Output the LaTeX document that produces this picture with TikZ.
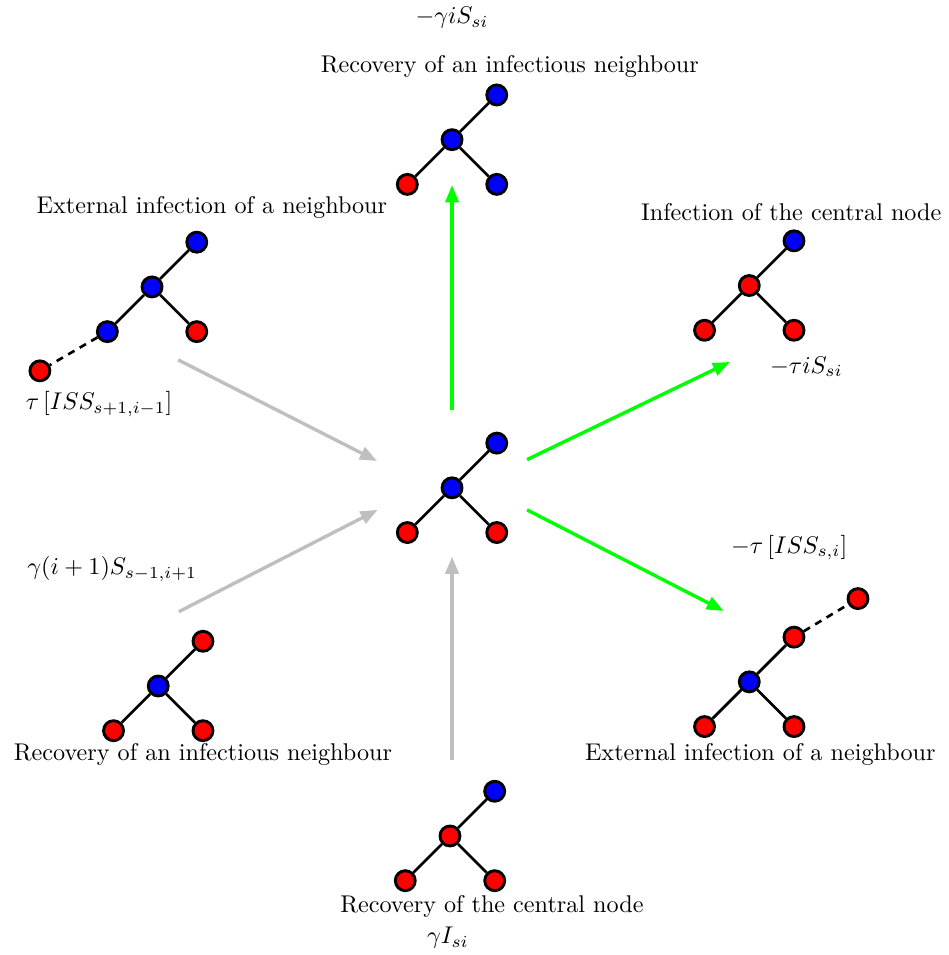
\documentclass[tikz,border=0pt]{standalone}
\usetikzlibrary{arrows.meta}
\begin{document}
\begin{tikzpicture}[
  inf/.style={shape=circle, draw, line width=1.2pt, fill=red, minimum size=0.29cm, inner sep=0pt},
  sus/.style={shape=circle, draw, line width=1.2pt, fill=blue, minimum size=0.29cm, inner sep=0pt},
  link/.style={line width=1.1pt},
  extlink/.style={line width=1.1pt, dashed, dash pattern=on 3pt off 2.5pt},
  gain/.style={-{Triangle[length=2.5mm, width=1.9mm]}, line width=1.4pt, color=lightgray},
  loss/.style={-{Triangle[length=2.5mm, width=1.9mm]}, line width=1.4pt, color=green}]
\useasboundingbox (-6.57,-6.79) rectangle (7.21,7.09);
% central state
\node[sus] (C0) at (0, 0) {};
\node[sus] (C1) at (0.65, 0.65) {};
\node[inf] (C2) at (-0.65, -0.65) {};
\node[inf] (C3) at (0.65, -0.65) {};
\draw[link] (C0) -- (C1);
\draw[link] (C0) -- (C2);
\draw[link] (C0) -- (C3);
% top: recovery of a neighbour
\node[sus] (T0) at (0, 5.06) {};
\node[sus] (T1) at (0.65, 5.71) {};
\node[inf] (T2) at (-0.65, 4.41) {};
\node[sus] (T3) at (0.65, 4.41) {};
\draw[link] (T0) -- (T1);
\draw[link] (T0) -- (T2);
\draw[link] (T0) -- (T3);
% upper left: external infection
\node[sus] (UL0) at (-4.36, 2.92) {};
\node[sus] (UL1) at (-3.71, 3.57) {};
\node[sus] (UL2) at (-5.01, 2.27) {};
\node[inf] (UL3) at (-3.71, 2.27) {};
\node[inf] (UL4) at (-5.99, 1.70) {};
\draw[link] (UL0) -- (UL1);
\draw[link] (UL0) -- (UL2);
\draw[link] (UL0) -- (UL3);
\draw[extlink] (UL2) -- (UL4);
% upper right: infection of the centre
\node[inf] (UR0) at (4.32, 2.94) {};
\node[sus] (UR1) at (4.97, 3.59) {};
\node[inf] (UR2) at (3.67, 2.29) {};
\node[inf] (UR3) at (4.97, 2.29) {};
\draw[link] (UR0) -- (UR1);
\draw[link] (UR0) -- (UR2);
\draw[link] (UR0) -- (UR3);
% lower left: recovery of a neighbour
\node[sus] (LL0) at (-4.27, -2.88) {};
\node[inf] (LL1) at (-3.62, -2.23) {};
\node[inf] (LL2) at (-4.92, -3.53) {};
\node[inf] (LL3) at (-3.62, -3.53) {};
\draw[link] (LL0) -- (LL1);
\draw[link] (LL0) -- (LL2);
\draw[link] (LL0) -- (LL3);
% lower right: external infection
\node[sus] (LR0) at (4.32, -2.82) {};
\node[inf] (LR1) at (4.97, -2.17) {};
\node[inf] (LR2) at (3.67, -3.47) {};
\node[inf] (LR3) at (4.97, -3.47) {};
\node[inf] (LR4) at (5.90, -1.61) {};
\draw[link] (LR0) -- (LR1);
\draw[link] (LR0) -- (LR2);
\draw[link] (LR0) -- (LR3);
\draw[extlink] (LR1) -- (LR4);
% bottom: recovery of the centre
\node[inf] (B0) at (-0.03, -5.06) {};
\node[sus] (B1) at (0.62, -4.41) {};
\node[inf] (B2) at (-0.68, -5.71) {};
\node[inf] (B3) at (0.62, -5.71) {};
\draw[link] (B0) -- (B1);
\draw[link] (B0) -- (B2);
\draw[link] (B0) -- (B3);
% arrow ends
\coordinate (aT) at (0, 1.13);
\coordinate (bT) at (0, 4.40);
\coordinate (aUR) at (1.09, 0.41);
\coordinate (bUR) at (4.04, 1.83);
\coordinate (aLR) at (1.09, -0.32);
\coordinate (bLR) at (3.95, -1.79);
\coordinate (aUL) at (-3.98, 1.86);
\coordinate (bUL) at (-1.09, 0.39);
\coordinate (aLL) at (-3.97, -1.80);
\coordinate (bLL) at (-1.08, -0.32);
\coordinate (aB) at (0, -3.95);
\coordinate (bB) at (0, -1.00);
\draw[loss] (aT) -- (bT);
\draw[loss] (aUR) -- (bUR);
\draw[loss] (aLR) -- (bLR);
\draw[gain] (aUL) -- (bUL);
\draw[gain] (aLL) -- (bLL);
\draw[gain] (aB) -- (bB);
% labels
\node (rT) at (0, 6.83) {$-\gamma i S_{si}$};
\node (lT) at (0.84, 6.13) {Recovery of an infectious neighbour};
\node (lUL) at (-3.49, 4.08) {External infection of a neighbour};
\node (rUL) at (-5.13, 1.22) {$\tau\left[ISS_{s+1,i-1}\right]$};
\node (lUR) at (4.93, 4.00) {Infection of the central node};
\node (rUR) at (5.15, 1.76) {$-\tau i S_{si}$};
\node (rLR) at (4.90, -0.87) {$-\tau\left[ISS_{s,i}\right]$};
\node (rLL) at (-4.94, -1.18) {$\gamma(i+1)S_{s-1,i+1}$};
\node (lLL) at (-3.62, -3.88) {Recovery of an infectious neighbour};
\node (lLR) at (4.48, -3.87) {External infection of a neighbour};
\node (lB) at (0.58, -6.09) {Recovery of the central node};
\node (rB) at (-0.06, -6.54) {$\gamma I_{si}$};
\end{tikzpicture}
\end{document}
